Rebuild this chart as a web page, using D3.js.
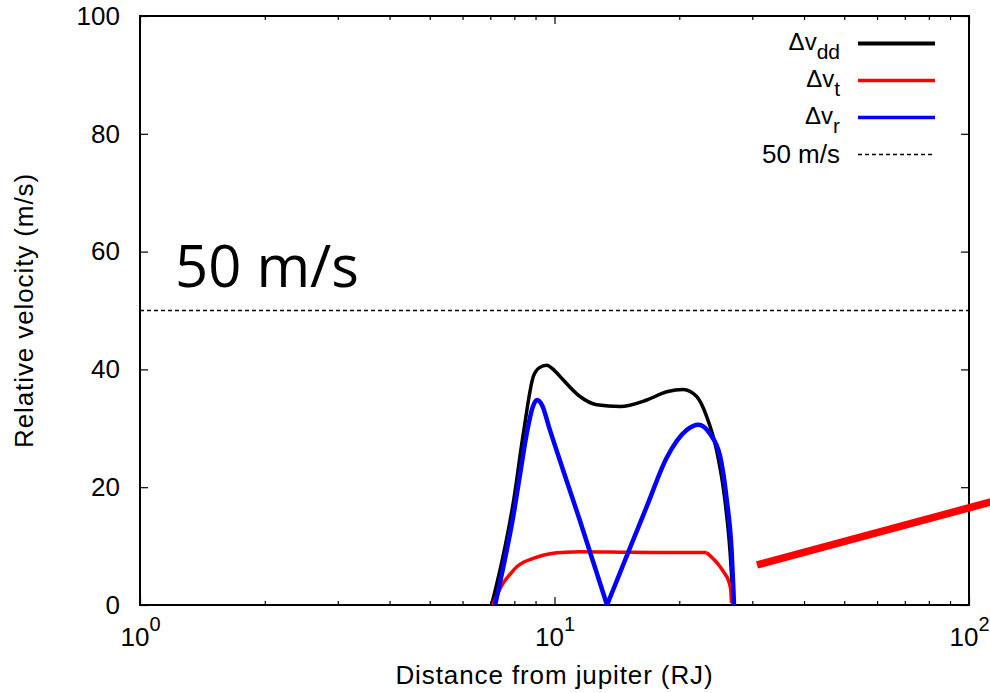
<!DOCTYPE html>
<html>
<head>
<meta charset="utf-8">
<script src="https://cdn.jsdelivr.net/npm/d3@7"></script>
<style>
  body { margin: 0; background: #fff; }
  text { font-family: "Liberation Sans", Arial, Helvetica, sans-serif; fill: #000; }
</style>
</head>
<body>
<div id="chart"></div>
<script>
// data: [distance (RJ), velocity (m/s)]
const vDD = [[7.05,0],[7.5,8],[7.95,17.3],[8.41,29.1],[8.89,38.8],[9.2,40.3],[9.57,40.7],
  [10.0,39.8],[10.5,38.2],[11.52,35.4],[12.64,34.0],[14.39,33.7],[16.69,34.8],[18.65,36.2],
  [20.45,36.6],[22.03,35.4],[23.29,32.0],[24.6,26.3],[25.77,17.8],[26.5,9.3],[27.0,0]];
const vT = [[7.1,0],[7.27,1.7],[7.52,3.7],[7.79,5.1],[8.11,6.5],[8.44,7.3],[8.89,7.9],
  [9.33,8.4],[9.93,8.8],[10.6,8.95],[11.52,9.05],[15.21,8.95],[20.08,8.9],[23.29,8.9],
  [25.1,6.5],[25.7,5.4],[26.27,4.2],[26.6,2.7],[26.74,0.3]];
const vR = [[7.19,0],[7.5,6],[7.95,15.0],[8.25,22],[8.57,29.1],[8.85,33.5],[9.08,34.8],
  [9.35,33.8],[9.7,30.2],[10.5,22.8],[11.52,14.3],[12.4,7.3],[13.39,0],
  [15.21,9.7],[16.69,16.7],[18.65,25.0],[20.84,29.7],[22.23,30.6],[23.7,29.1],[25.1,25.2],
  [26.04,17.8],[26.74,9.3],[27.0,3],[27.1,0]];
const redBar = [[30.8,6.8],[120,18.0]];
const limit = 50;
const tCorner = 23.29;

const xMajor = [1, 10, 100];
const xExp = ["0", "1", "2"];
const xMinor = [2,3,4,5,6,7,8,9,20,30,40,50,60,70,80,90];
const yTicks = [0, 20, 40, 60, 80, 100];

const legendItems = [
  {base: "\u0394v", sub: "dd", color: "#000", w: 4},
  {base: "\u0394v", sub: "t", color: "#f00", w: 3.5},
  {base: "\u0394v", sub: "r", color: "#00f", w: 3.5}
];

let width = 990, height = 693;
let mLeft = 140, mRight = 969, mTop = 16, mBottom = 605;

let svg = d3.select("#chart").append("svg")
  .attr("width", width)
  .attr("height", height);

svg.append("rect").attr("width", width).attr("height", height).attr("fill", "#fff");

let x = d3.scaleLog().domain([1, 100]).range([mLeft, mRight]);
let y = d3.scaleLinear().domain([0, 100]).range([mBottom, mTop]);

// ticks (inward, mirrored)
svg.append("g")
  .attr("transform", `translate(0, ${mBottom})`)
  .call(d3.axisBottom(x).tickValues(xMinor).tickSize(-4).tickFormat(""))
  .call(g => g.select(".domain").remove());
svg.append("g")
  .attr("transform", `translate(0, ${mTop})`)
  .call(d3.axisTop(x).tickValues(xMinor).tickSize(-4).tickFormat(""))
  .call(g => g.select(".domain").remove());
svg.append("g")
  .attr("transform", `translate(0, ${mTop})`)
  .call(d3.axisTop(x).tickValues(xMajor).tickSize(-8).tickFormat(""))
  .call(g => g.select(".domain").remove());

let xAxis = svg.append("g")
  .attr("transform", `translate(0, ${mBottom})`)
  .call(d3.axisBottom(x).tickValues(xMajor).tickSize(-8).tickFormat(""));
xAxis.select(".domain").remove();
xAxis.selectAll(".tick").append("text")
  .attr("y", 41)
  .attr("text-anchor", "middle")
  .attr("fill", "#000")
  .style("font-size", "26px")
  .each(function(d, i) {
    let t = d3.select(this);
    t.append("tspan").text("10");
    t.append("tspan").attr("dy", -15).style("font-size", "20px").text(xExp[i]);
  });

let yAxis = svg.append("g")
  .attr("transform", `translate(${mLeft}, 0)`)
  .call(d3.axisLeft(y).tickValues(yTicks).tickSize(-8).tickPadding(20));
yAxis.select(".domain").remove();
yAxis.selectAll("text")
  .attr("fill", "#000")
  .style("font-size", "26px")
  .style("font-family", "'Liberation Sans', Arial, sans-serif");

svg.append("g")
  .attr("transform", `translate(${mRight}, 0)`)
  .call(d3.axisRight(y).tickValues(yTicks).tickSize(-8).tickFormat(""))
  .call(g => g.select(".domain").remove());

svg.selectAll(".tick line").attr("stroke", "#000").attr("stroke-width", 1.2);

// frame
svg.append("rect")
  .attr("x", mLeft).attr("y", mTop)
  .attr("width", mRight - mLeft).attr("height", mBottom - mTop)
  .attr("fill", "none").attr("stroke", "#000").attr("stroke-width", 2);

// 50 m/s line
svg.append("line")
  .attr("x1", mLeft).attr("x2", mRight)
  .attr("y1", y(limit)).attr("y2", y(limit))
  .attr("stroke", "#000").attr("stroke-width", 1.5)
  .attr("stroke-dasharray", "4,3");

let smooth = d3.line()
  .x(d => x(d[0])).y(d => y(d[1]))
  .curve(d3.curveMonotoneX);
let straight = d3.line()
  .x(d => x(d[0])).y(d => y(d[1]));

// draw a series in pieces split at index k, so the corner stays sharp
function drawSplit(data, k, color, w) {
  [data.slice(0, k + 1), data.slice(k)].forEach(part => {
    svg.append("path")
      .attr("d", smooth(part))
      .attr("fill", "none").attr("stroke", color).attr("stroke-width", w)
      .attr("stroke-linejoin", "round");
  });
}

svg.append("path")
  .attr("d", smooth(vDD))
  .attr("fill", "none").attr("stroke", "#000").attr("stroke-width", 3.5);

drawSplit(vT, vT.findIndex(d => d[0] === tCorner), "#f00", 3.5);
drawSplit(vR, vR.findIndex((d, i) => i > 0 && d[1] === 0), "#00f", 4.5);

svg.append("path")
  .attr("d", straight(redBar))
  .attr("fill", "none").attr("stroke", "#f00").attr("stroke-width", 7.5);

// big annotation
svg.append("text")
  .attr("x", 175).attr("y", 287)
  .style("font-family", "'Open Sans', sans-serif")
  .style("font-size", "58px")
  .text("50 m/s");

// legend
let legend = svg.append("g");
let rowY = [43.5, 80.5, 117.5, 154.5];
legendItems.forEach((item, i) => {
  let t = legend.append("text")
    .attr("x", 840).attr("y", rowY[i] + 6)
    .attr("text-anchor", "end")
    .style("font-size", "24px");
  t.append("tspan").text(item.base);
  t.append("tspan").attr("dy", 9).style("font-size", "21px").text(item.sub);
  legend.append("line")
    .attr("x1", 858).attr("x2", 935)
    .attr("y1", rowY[i]).attr("y2", rowY[i])
    .attr("stroke", item.color).attr("stroke-width", item.w);
});
legend.append("text")
  .attr("x", 840).attr("y", rowY[3] + 8.5)
  .attr("text-anchor", "end")
  .style("font-size", "26px")
  .text("50 m/s");
legend.append("line")
  .attr("x1", 858).attr("x2", 935)
  .attr("y1", rowY[3]).attr("y2", rowY[3])
  .attr("stroke", "#000").attr("stroke-width", 1.5)
  .attr("stroke-dasharray", "4,3");

// axis titles
svg.append("text")
  .attr("x", (mLeft + mRight) / 2).attr("y", 684)
  .attr("text-anchor", "middle")
  .style("font-size", "26px")
  .style("letter-spacing", "0.9px")
  .text("Distance from jupiter (RJ)");
svg.append("text")
  .attr("transform", `translate(33, ${(mTop + mBottom) / 2}) rotate(-90)`)
  .attr("text-anchor", "middle")
  .style("font-size", "26px")
  .style("letter-spacing", "0.9px")
  .text("Relative velocity (m/s)");
</script>
</body>
</html>
